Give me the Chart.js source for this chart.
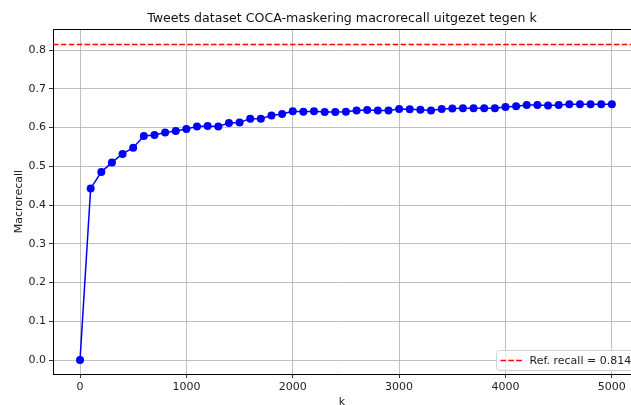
<!DOCTYPE html>
<html>
<head>
<meta charset="utf-8">
<script src="https://cdn.jsdelivr.net/npm/chart.js@4/dist/chart.umd.min.js"></script>
<style>
  html, body { margin: 0; padding: 0; background: #ffffff; }
  canvas { display: block; }
</style>
</head>
<body>
<canvas id="chart" width="631" height="405"></canvas>
<script>
// k values (number of masked words) and the resulting macro recall
const kValues = [0, 100, 200, 300, 400, 500, 600, 700, 800, 900,
  1000, 1100, 1200, 1300, 1400, 1500, 1600, 1700, 1800, 1900,
  2000, 2100, 2200, 2300, 2400, 2500, 2600, 2700, 2800, 2900,
  3000, 3100, 3200, 3300, 3400, 3500, 3600, 3700, 3800, 3900,
  4000, 4100, 4200, 4300, 4400, 4500, 4600, 4700, 4800, 4900, 5000];
const macroRecall = [0.000, 0.443, 0.485, 0.510, 0.532, 0.548, 0.578, 0.581, 0.587, 0.591,
  0.596, 0.603, 0.604, 0.603, 0.612, 0.613, 0.623, 0.623, 0.631, 0.635,
  0.642, 0.641, 0.642, 0.640, 0.640, 0.641, 0.644, 0.645, 0.644, 0.644,
  0.648, 0.647, 0.646, 0.644, 0.648, 0.649, 0.650, 0.650, 0.650, 0.650,
  0.653, 0.655, 0.658, 0.658, 0.657, 0.658, 0.660, 0.660, 0.660, 0.660, 0.660];
const refRecall = 0.814;
const refLabel = 'Ref. recall = 0.814';
const xTicks = [0, 1000, 2000, 3000, 4000, 5000];
const yTicks = [0.0, 0.1, 0.2, 0.3, 0.4, 0.5, 0.6, 0.7, 0.8];
const xRange = [-254, 5180];
const yRange = [-0.036, 0.854];

const FONT = "'DejaVu Sans', sans-serif";
const recallPoints = kValues.map((k, i) => ({ x: k, y: macroRecall[i] }));
const refPoints = [{ x: xRange[0], y: refRecall }, { x: xRange[1], y: refRecall }];

// frame line along the top of the plot area
const topFrame = {
  id: 'topFrame',
  afterDraw(chart) {
    const { ctx, chartArea } = chart;
    ctx.save();
    ctx.strokeStyle = '#000';
    ctx.lineWidth = 1;
    ctx.beginPath();
    ctx.moveTo(chartArea.left, Math.round(chartArea.top) + 0.5);
    ctx.lineTo(chartArea.right, Math.round(chartArea.top) + 0.5);
    ctx.stroke();
    ctx.restore();
  }
};

// legend box in the lower right corner of the plot
const cornerLegend = {
  id: 'cornerLegend',
  afterDatasetsDraw(chart) {
    const { ctx, chartArea } = chart;
    const ds = chart.data.datasets[1];
    const boxW = 140, boxH = 20;
    const x0 = chartArea.right - 134.5;
    const y0 = chartArea.bottom - 23.5;
    ctx.save();
    ctx.fillStyle = 'rgba(255,255,255,0.8)';
    ctx.strokeStyle = '#d0d0d0';
    ctx.lineWidth = 1;
    ctx.beginPath();
    if (ctx.roundRect) ctx.roundRect(x0, y0, boxW, boxH, 3); else ctx.rect(x0, y0, boxW, boxH);
    ctx.fill();
    ctx.stroke();
    const cy = y0 + boxH / 2;
    ctx.strokeStyle = ds.borderColor;
    ctx.lineWidth = ds.borderWidth;
    ctx.setLineDash(ds.borderDash);
    ctx.beginPath();
    ctx.moveTo(x0 + 4, cy);
    ctx.lineTo(x0 + 26, cy);
    ctx.stroke();
    ctx.setLineDash([]);
    ctx.fillStyle = '#222';
    ctx.font = '11px ' + FONT;
    ctx.textBaseline = 'middle';
    ctx.fillText(ds.label, x0 + 33, cy + 0.5);
    ctx.restore();
  }
};

new Chart(document.getElementById('chart'), {
  type: 'line',
  data: {
    datasets: [
      {
        label: 'Macrorecall',
        data: recallPoints,
        borderColor: '#0000ff',
        backgroundColor: '#0000ff',
        borderWidth: 1.5,
        pointRadius: 4,
        pointHoverRadius: 4,
        pointBorderWidth: 0,
        tension: 0,
        fill: false
      },
      {
        label: refLabel,
        data: refPoints,
        borderColor: '#ff0000',
        borderWidth: 1.5,
        borderDash: [5.5, 2.4],
        pointRadius: 0,
        fill: false
      }
    ]
  },
  options: {
    responsive: false,
    animation: false,
    devicePixelRatio: 1,
    layout: { autoPadding: false, padding: 0 },
    plugins: {
      legend: { display: false },
      tooltip: { enabled: false },
      title: {
        display: true,
        fullSize: false,
        text: 'Tweets dataset COCA-maskering macrorecall uitgezet tegen k',
        color: '#111',
        font: { family: FONT, size: 12.6, weight: 'normal' },
        padding: { top: 11.5, bottom: 2.5 }
      }
    },
    scales: {
      x: {
        type: 'linear',
        min: xRange[0],
        max: xRange[1],
        afterBuildTicks(scale) { scale.ticks = xTicks.map(v => ({ value: v })); },
        afterFit(scale) {
          scale.height = 31;
          scale.paddingLeft = 0;
          scale.paddingRight = 0;
        },
        grid: { color: '#b0b0b0', lineWidth: 0.8, tickColor: '#000', tickLength: 4, drawOnChartArea: true },
        border: { display: true, color: '#000', width: 1 },
        ticks: {
          color: '#222',
          font: { family: FONT, size: 11 },
          padding: 3,
          maxRotation: 0,
          autoSkip: false,
          callback: v => String(v)
        },
        title: {
          display: true,
          text: 'k',
          color: '#222',
          font: { family: FONT, size: 11 },
          padding: { top: 0, bottom: -4 }
        }
      },
      y: {
        type: 'linear',
        min: yRange[0],
        max: yRange[1],
        afterBuildTicks(scale) { scale.ticks = yTicks.map(v => ({ value: v })); },
        afterFit(scale) { scale.width = 53; },
        grid: { color: '#b0b0b0', lineWidth: 0.8, tickColor: '#000', tickLength: 4 },
        border: { display: true, color: '#000', width: 1 },
        ticks: {
          color: '#222',
          font: { family: FONT, size: 11 },
          padding: 3,
          autoSkip: false,
          callback: v => Number(v).toFixed(1)
        },
        title: {
          display: true,
          text: 'Macrorecall',
          color: '#222',
          font: { family: FONT, size: 11 },
          padding: { top: 13, bottom: 0 }
        }
      }
    }
  },
  plugins: [topFrame, cornerLegend]
});
</script>
</body>
</html>
